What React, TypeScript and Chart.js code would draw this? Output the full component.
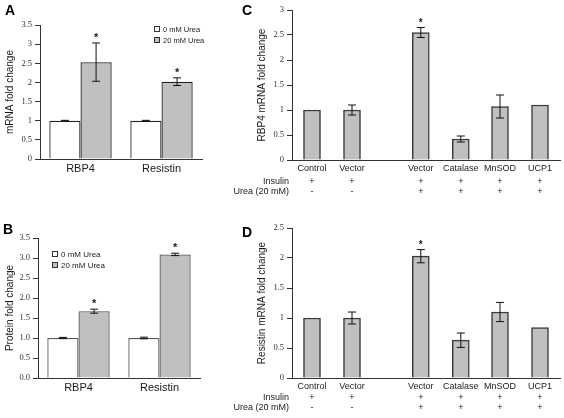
import React, { useEffect, useRef } from "react";
import { Chart, registerables } from "chart.js";

Chart.register(...registerables);

// ---------- Data ----------
// Panels A & B
const abCategories = ["RBP4", "Resistin"];
const ureaLegend = ["0 mM Urea", "20 mM Urea"];

const aMrna0 = [1.0, 1.0];
const aMrna0Err = [0.01, 0.01];
const aMrna20 = [2.53, 2.02];
const aMrna20Err = [0.5, 0.1];
const aSig20 = [true, true];
const aTickLabels = ["0", "0.5", "1", "1.5", "2", "2.5", "3", "3.5"];

const bProt0 = [1.0, 1.0];
const bProt0Err = [0.015, 0.02];
const bProt20 = [1.67, 3.09];
const bProt20Err = [0.05, 0.03];
const bSig20 = [true, true];
const bTickLabels = ["0.0", "0.5", "1.0", "1.5", "2.0", "2.5", "3.0", "3.5"];

// Panels C & D
const cdLabels = ["Control", "Vector", "Vector", "Catalase", "MnSOD", "UCP1"];
const cdSlots = [1, 2, 3.72, 4.72, 5.7, 6.7];
const rowNames = ["Insulin", "Urea (20 mM)"];
const insulinRow = ["+", "+", "+", "+", "+", "+"];
const ureaRow = ["-", "-", "+", "+", "+", "+"];

const cRbp4 = [1.0, 1.0, 2.55, 0.42, 1.07, 1.1];
const cRbp4Err = [0, 0.1, 0.1, 0.06, 0.23, 0];
const cSig = [false, false, true, false, false, false];
const cTickLabels = ["0", "0.5", "1", "1.5", "2", "2.5", "3"];

const dResistin = [1.0, 1.0, 2.03, 0.63, 1.1, 0.84];
const dResistinErr = [0, 0.1, 0.11, 0.12, 0.16, 0];
const dSig = [false, false, true, false, false, false];
const dTickLabels = ["0", "0.5", "1", "1.5", "2", "2.5"];

// ---------- Styles ----------
const SANS = '"Liberation Sans", Arial, Helvetica, sans-serif';
const SERIF = '"Liberation Serif", "Times New Roman", serif';
const TEXT = "#1a1a1a";
const GRAY = "#c0c0c0";

// ---------- Plugins ----------
const errorBarPlugin = {
  id: "errorBars",
  afterDatasetsDraw(chart: any, _args: any, opts: any) {
    const ctx = chart.ctx;
    const yScale = chart.scales.y;
    const cap = opts.cap ?? 4;
    chart.data.datasets.forEach((ds: any, i: number) => {
      const meta = chart.getDatasetMeta(i);
      const errs = ds.errors || [];
      const sig = ds.sig || [];
      meta.data.forEach((bar: any, j: number) => {
        const raw = ds.data[j];
        const v = typeof raw === "number" ? raw : raw.y;
        const e = errs[j] || 0;
        const x = bar.x;
        const yTop = yScale.getPixelForValue(v + e);
        const yBot = yScale.getPixelForValue(v - e);
        ctx.save();
        if (e > 0) {
          ctx.strokeStyle = opts.color || "#111";
          ctx.lineWidth = opts.lineWidth || 1;
          ctx.beginPath();
          ctx.moveTo(x, yTop);
          ctx.lineTo(x, yBot);
          ctx.moveTo(x - cap, yTop);
          ctx.lineTo(x + cap, yTop);
          ctx.moveTo(x - cap, yBot);
          ctx.lineTo(x + cap, yBot);
          ctx.stroke();
        }
        if (sig[j]) {
          ctx.fillStyle = TEXT;
          ctx.font = `bold ${opts.starSize || 11}px ${SANS}`;
          ctx.textAlign = "center";
          ctx.textBaseline = "alphabetic";
          ctx.fillText("*", x, yTop - (opts.starGap ?? 2));
        }
        ctx.restore();
      });
    });
  },
};

const boxLegendPlugin = {
  id: "boxLegend",
  afterDraw(chart: any, _args: any, opts: any) {
    if (!opts || !opts.show) return;
    const ctx = chart.ctx;
    const { left, top } = chart.chartArea;
    const s = opts.box || 6;
    ctx.save();
    chart.data.datasets.forEach((ds: any, i: number) => {
      const bx = left + opts.x;
      const cy = top + opts.y + i * opts.gap;
      ctx.fillStyle = ds.backgroundColor;
      ctx.fillRect(bx, cy - s / 2, s, s);
      ctx.strokeStyle = "#333";
      ctx.lineWidth = 1;
      ctx.strokeRect(bx + 0.5, cy - s / 2 + 0.5, s - 1, s - 1);
      ctx.fillStyle = TEXT;
      ctx.font = `${opts.fontSize}px ${SANS}`;
      ctx.textAlign = "left";
      ctx.textBaseline = "middle";
      ctx.fillText(ds.label, bx + s + 3, cy + 0.5);
    });
    ctx.restore();
  },
};

const treatmentRowsPlugin = {
  id: "treatmentRows",
  afterDraw(chart: any, _args: any, opts: any) {
    if (!opts || !opts.rows) return;
    const ctx = chart.ctx;
    const { left, bottom } = chart.chartArea;
    const meta = chart.getDatasetMeta(0);
    ctx.save();
    ctx.font = `${opts.fontSize || 9}px ${SANS}`;
    ctx.fillStyle = TEXT;
    ctx.textBaseline = "middle";
    opts.rows.forEach((row: any, r: number) => {
      const y = bottom + opts.offsets[r];
      ctx.textAlign = "right";
      ctx.fillText(row.name, left - (opts.labelGap ?? 4), y);
      ctx.textAlign = "center";
      row.marks.forEach((m: string, j: number) => {
        const bar = meta.data[j];
        if (bar) ctx.fillText(m, bar.x, y);
      });
    });
    ctx.restore();
  },
};

// ---------- Config builders ----------
function yAxis(max: number, labels: string[], title: string, width: number) {
  return {
    min: 0,
    max,
    ticks: {
      stepSize: 0.5,
      font: { family: SERIF, size: 8.5 },
      color: "#333",
      padding: 3,
      callback: (_v: any, i: number) => labels[i],
    },
    grid: { drawOnChartArea: false, drawTicks: true, tickLength: 5, color: "#333" },
    border: { display: true, color: "#333", width: 1 },
    title: {
      display: true,
      text: title,
      font: { family: SANS, size: 10 },
      color: TEXT,
      padding: { top: 4, bottom: 0 },
    },
    afterFit: (s: any) => {
      s.width = width;
    },
  };
}

function groupedConfig(opts: {
  v0: number[];
  e0: number[];
  v20: number[];
  e20: number[];
  sig20: boolean[];
  tickLabels: string[];
  title: string;
  padding: any;
  yWidth: number;
  xHeight: number;
  legend: any;
  borderColor: string;
}) {
  const common = {
    borderColor: opts.borderColor,
    borderWidth: 1.3,
    categoryPercentage: 0.77,
    barPercentage: 1,
  };
  return {
    type: "bar",
    data: {
      labels: abCategories,
      datasets: [
        {
          label: ureaLegend[0],
          data: opts.v0,
          errors: opts.e0,
          sig: [false, false],
          backgroundColor: "#ffffff",
          ...common,
        },
        {
          label: ureaLegend[1],
          data: opts.v20,
          errors: opts.e20,
          sig: opts.sig20,
          backgroundColor: GRAY,
          ...common,
        },
      ],
    },
    options: {
      animation: false,
      responsive: false,
      layout: { padding: opts.padding },
      plugins: {
        legend: { display: false },
        tooltip: { enabled: false },
        boxLegend: opts.legend,
        errorBars: { cap: 4, lineWidth: 1, color: "#111", starGap: 2 },
      },
      scales: {
        x: {
          grid: { display: false, drawTicks: false },
          border: { display: true, color: "#333", width: 1 },
          ticks: { font: { family: SANS, size: 11 }, color: TEXT, padding: 3, maxRotation: 0 },
          afterFit: (s: any) => {
            s.height = opts.xHeight;
          },
        },
        y: yAxis(3.5, opts.tickLabels, opts.title, opts.yWidth),
      },
    },
    plugins: [errorBarPlugin, boxLegendPlugin],
  };
}

function treatmentConfig(opts: {
  values: number[];
  errs: number[];
  sig: boolean[];
  max: number;
  tickLabels: string[];
  title: string;
  padding: any;
  xHeight: number;
  rowOffsets: number[];
}) {
  return {
    type: "bar",
    data: {
      datasets: [
        {
          label: opts.title,
          data: cdSlots.map((x, i) => ({ x, y: opts.values[i] })),
          errors: opts.errs,
          sig: opts.sig,
          backgroundColor: GRAY,
          borderColor: "#3c3c3c",
          borderWidth: 1.5,
          barThickness: 17,
        },
      ],
    },
    options: {
      animation: false,
      responsive: false,
      layout: { padding: opts.padding },
      plugins: {
        legend: { display: false },
        tooltip: { enabled: false },
        errorBars: { cap: 4, lineWidth: 1, color: "#111", starGap: 2, starSize: 10 },
        treatmentRows: {
          fontSize: 9,
          labelGap: 3,
          offsets: opts.rowOffsets,
          rows: [
            { name: rowNames[0], marks: insulinRow },
            { name: rowNames[1], marks: ureaRow },
          ],
        },
      },
      scales: {
        x: {
          type: "linear",
          min: 0.5,
          max: 7.2,
          offset: false,
          grid: { display: false, drawTicks: false },
          border: { display: true, color: "#333", width: 1 },
          afterBuildTicks: (axis: any) => {
            axis.ticks = cdSlots.map((v) => ({ value: v }));
          },
          ticks: {
            autoSkip: false,
            maxRotation: 0,
            font: { family: SANS, size: 9 },
            color: TEXT,
            padding: 3,
            callback: (_v: any, i: number) => cdLabels[i],
          },
          afterFit: (s: any) => {
            s.height = opts.xHeight;
          },
        },
        y: yAxis(opts.max, opts.tickLabels, opts.title, 40),
      },
    },
    plugins: [errorBarPlugin, treatmentRowsPlugin],
  };
}

// ---------- Components ----------
function ChartPanel(props: { left: number; top: number; width: number; height: number; config: () => any }) {
  const ref = useRef<HTMLCanvasElement | null>(null);
  useEffect(() => {
    if (!ref.current) return;
    const chart = new Chart(ref.current, props.config() as any);
    return () => chart.destroy();
  }, []);
  return (
    <canvas
      ref={ref}
      width={props.width}
      height={props.height}
      style={{
        position: "absolute",
        left: props.left,
        top: props.top,
        width: props.width,
        height: props.height,
      }}
    />
  );
}

function Letter(props: { text: string; left: number; top: number }) {
  return (
    <div
      style={{
        position: "absolute",
        left: props.left,
        top: props.top,
        fontFamily: SANS,
        fontWeight: "bold",
        fontSize: 14,
        lineHeight: "14px",
        color: "#000",
      }}
    >
      {props.text}
    </div>
  );
}

export default function App() {
  return (
    <div
      style={{
        position: "absolute",
        left: 0,
        top: 0,
        width: 564,
        height: 418,
        background: "#ffffff",
        overflow: "hidden",
      }}
    >
      <ChartPanel
        left={0}
        top={0}
        width={215}
        height={200}
        config={() =>
          groupedConfig({
            v0: aMrna0,
            e0: aMrna0Err,
            v20: aMrna20,
            e20: aMrna20Err,
            sig20: aSig20,
            tickLabels: aTickLabels,
            title: "mRNA fold change",
            padding: { top: 25, right: 13, bottom: 0, left: 0 },
            yWidth: 40,
            xHeight: 41,
            legend: { show: true, x: 114, y: 4, gap: 11, box: 6, fontSize: 7.5 },
            borderColor: "#222",
          })
        }
      />
      <ChartPanel
        left={0}
        top={205}
        width={215}
        height={213}
        config={() =>
          groupedConfig({
            v0: bProt0,
            e0: bProt0Err,
            v20: bProt20,
            e20: bProt20Err,
            sig20: bSig20,
            tickLabels: bTickLabels,
            title: "Protein fold change",
            padding: { top: 33, right: 15, bottom: 0, left: 0 },
            yWidth: 38,
            xHeight: 40,
            legend: { show: true, x: 14, y: 16, gap: 11, box: 6, fontSize: 8 },
            borderColor: "#555",
          })
        }
      />
      <ChartPanel
        left={220}
        top={0}
        width={344}
        height={205}
        config={() =>
          treatmentConfig({
            values: cRbp4,
            errs: cRbp4Err,
            sig: cSig,
            max: 3,
            tickLabels: cTickLabels,
            title: "RBP4 mRNA fold change",
            padding: { top: 10, right: 4, bottom: 0, left: 32 },
            xHeight: 45,
            rowOffsets: [21.5, 31.5],
          })
        }
      />
      <ChartPanel
        left={220}
        top={205}
        width={344}
        height={213}
        config={() =>
          treatmentConfig({
            values: dResistin,
            errs: dResistinErr,
            sig: dSig,
            max: 2.5,
            tickLabels: dTickLabels,
            title: "Resistin mRNA fold change",
            padding: { top: 23, right: 4, bottom: 0, left: 32 },
            xHeight: 40,
            rowOffsets: [20, 30],
          })
        }
      />
      <Letter text="A" left={5} top={3} />
      <Letter text="B" left={3} top={222} />
      <Letter text="C" left={242} top={3} />
      <Letter text="D" left={242} top={225} />
    </div>
  );
}
